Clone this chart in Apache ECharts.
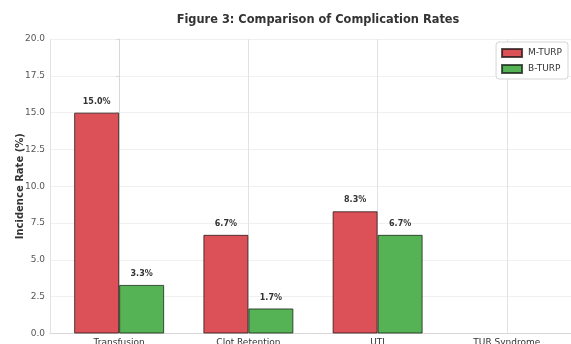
<!DOCTYPE html>
<html>
<head>
<meta charset="utf-8">
<script src="https://cdn.jsdelivr.net/npm/echarts@6/dist/echarts.min.js"></script>
<style>
  html, body { margin: 0; padding: 0; background: #fff; }
  #chart { width: 571px; height: 344px; }
</style>
</head>
<body>
<div id="chart"></div>
<script>
// Complication categories and incidence rates (%) for each technique
const categories = ['Transfusion', 'Clot Retention', 'UTI', 'TUR Syndrome'];
const mturpRates = [15.0, 6.7, 8.3, 0.0];
const bturpRates = [3.3, 1.7, 6.7, 0.0];
const yTicks = [0, 2.5, 5, 7.5, 10, 12.5, 15, 17.5, 20];

const FONT = 'DejaVu Sans';

// bars sit on a numeric x axis so the category slots keep the padded extent;
// zero-height bars get no outline
const toPoints = vals => vals.map((v, i) =>
  v > 0 ? [i, v] : { value: [i, v], itemStyle: { borderWidth: 0 } });

const valueLabel = {
  show: true,
  position: 'top',
  distance: 7,
  fontFamily: FONT,
  fontSize: 8,
  fontWeight: 'bold',
  color: '#333',
  formatter: p => (p.value[1] > 0 ? p.value[1].toFixed(1) + '%' : '')
};

const chart = echarts.init(document.getElementById('chart'), null, { renderer: 'canvas' });
chart.setOption({
  animation: false,
  backgroundColor: '#ffffff',
  title: {
    text: 'Figure 3: Comparison of Complication Rates',
    left: 313,
    textAlign: 'center',
    top: 10,
    textStyle: { fontFamily: FONT, fontSize: 11.4, fontWeight: 'bold', color: '#333' }
  },
  legend: {
    data: ['M-TURP', 'B-TURP'],
    orient: 'vertical',
    right: 3,
    top: 42,
    icon: 'rect',
    itemWidth: 20,
    itemHeight: 8,
    itemGap: 6,
    padding: [6, 6, 5, 5],
    backgroundColor: '#fff',
    borderColor: '#d5d5d5',
    borderWidth: 1,
    borderRadius: 3,
    textStyle: { fontFamily: FONT, fontSize: 9, color: '#333', padding: [0, 0, 0, 1] }
  },
  grid: {
    left: 50, right: -5, top: 39, bottom: 10.5,
    containLabel: false,
    outerBoundsMode: 'none'
  },
  xAxis: {
    type: 'value',
    min: -0.535,
    max: 3.535,
    minInterval: 1,
    maxInterval: 1,
    axisLine: { show: true, lineStyle: { color: '#d8d8d8', width: 1 } },
    axisTick: { show: false },
    axisLabel: {
      showMinLabel: false,
      showMaxLabel: false,
      margin: 5,
      fontFamily: FONT,
      fontSize: 9,
      color: '#333',
      formatter: v => {
        const k = Math.round(v);
        return Math.abs(v - k) < 1e-6 && categories[k] ? categories[k] : '';
      }
    },
    splitLine: { show: true, lineStyle: { color: '#e2e2e2', width: 1 } }
  },
  yAxis: {
    type: 'value',
    min: yTicks[0],
    max: yTicks[yTicks.length - 1],
    interval: yTicks[1] - yTicks[0],
    name: 'Incidence Rate (%)',
    nameLocation: 'middle',
    nameGap: 25,
    nameMoveOverlap: false,
    nameTextStyle: { fontFamily: FONT, fontSize: 10, fontWeight: 'bold', color: '#333' },
    axisLine: { show: true, lineStyle: { color: '#d8d8d8', width: 1 } },
    axisTick: { show: true, length: 3, lineStyle: { color: '#d8d8d8' } },
    axisLabel: {
      fontFamily: FONT,
      fontSize: 9,
      color: '#555',
      margin: 5,
      formatter: v => v.toFixed(1)
    },
    splitLine: { show: true, lineStyle: { color: '#f0f0f0', width: 1 } }
  },
  series: [
    {
      name: 'M-TURP',
      type: 'bar',
      data: toPoints(mturpRates),
      barWidth: 45,
      barGap: '0%',
      itemStyle: { color: '#dc5157', borderColor: 'rgba(30,20,20,0.75)', borderWidth: 1 },
      label: valueLabel
    },
    {
      name: 'B-TURP',
      type: 'bar',
      data: toPoints(bturpRates),
      barWidth: 45,
      barGap: '0%',
      itemStyle: { color: '#55b255', borderColor: 'rgba(20,30,20,0.75)', borderWidth: 1 },
      label: valueLabel
    }
  ]
});
</script>
</body>
</html>
